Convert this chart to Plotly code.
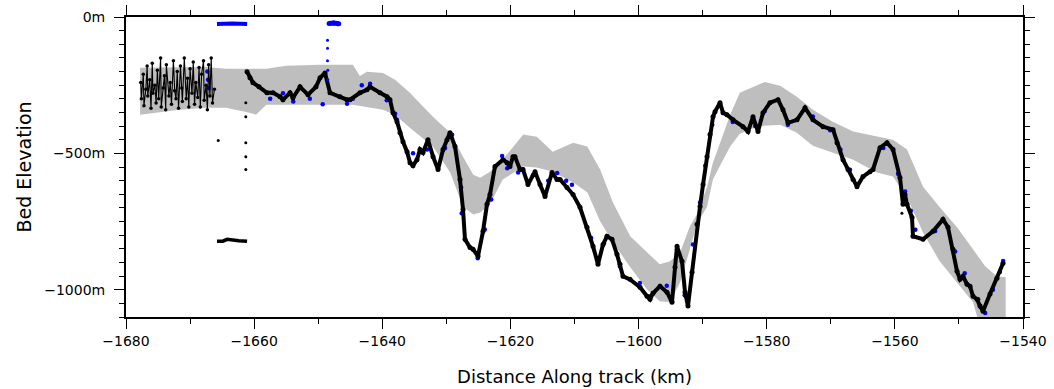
import plotly.graph_objects as go

# ---------------- data (km along track, metres) ----------------
band_km = [-1677.8, -1671.6, -1667.5, -1664.4, -1661.4, -1659.7, -1658.1, -1655.0, -1649.7,
           -1644.6, -1643.5, -1642.4, -1639.9, -1638.0, -1635.7, -1632.1, -1629.4, -1627.4,
           -1625.8, -1624.7, -1623.2, -1621.2, -1618.0, -1615.9, -1613.4, -1610.2, -1608.0,
           -1606.0, -1604.0, -1601.3, -1598.7, -1596.7, -1595.1, -1593.5, -1592.0, -1590.9,
           -1589.3, -1588.4, -1586.8, -1585.7, -1584.2, -1581.5, -1580.3, -1577.9, -1575.3,
           -1572.8, -1569.7, -1566.5, -1562.8, -1560.3, -1558.1, -1555.6, -1553.0, -1550.3,
           -1547.8, -1545.9, -1544.1, -1542.7]
band_upper_m = [-186, -183, -183, -190, -190, -190, -190, -179, -175,
                -175, -216, -201, -205, -230, -278, -366, -424, -512,
                -578, -589, -567, -523, -431, -439, -494, -461, -475,
                -559, -680, -804, -863, -907, -896, -863, -768, -724,
                -622, -534, -431, -358, -278, -249, -238, -252, -292,
                -340, -384, -420, -439, -450, -486, -622, -698, -771,
                -852, -914, -951, -954]
band_lower_m = [-358, -340, -333, -333, -347, -358, -322, -322, -322,
                -322, -325, -329, -340, -358, -406, -475, -570, -695,
                -724, -717, -687, -596, -548, -552, -567, -607, -643,
                -749, -826, -918, -998, -1042, -1046, -972, -852, -760,
                -695, -596, -523, -475, -428, -402, -399, -395, -424,
                -472, -497, -523, -570, -585, -662, -790, -896, -972,
                -1046, -1200, -1200, -1200]

noise_km = [-1677.7, -1677.6, -1677.3, -1677.2, -1676.9, -1676.7, -1676.6, -1676.3, -1676.1,
            -1675.9, -1675.8, -1675.5, -1675.3, -1675.1, -1674.9, -1674.6, -1674.5, -1674.2,
            -1674.0, -1673.8, -1673.7, -1673.3, -1673.1, -1672.9, -1672.6, -1672.4, -1672.2,
            -1672.0, -1671.8, -1671.5, -1671.3, -1671.2, -1670.9, -1670.6, -1670.4, -1670.2,
            -1670.0, -1669.7, -1669.5, -1669.3, -1669.1, -1668.8, -1668.6, -1668.4, -1668.2,
            -1667.9, -1667.8, -1667.5, -1667.3, -1667.1, -1666.9, -1666.7, -1666.5, -1666.2]
noise_m = [-240, -300, -210, -325, -265, -180, -290, -230, -335,
           -170, -280, -250, -315, -195, -300, -150, -330, -260,
           -215, -340, -175, -290, -240, -320, -160, -270, -300,
           -200, -335, -180, -260, -310, -150, -300, -225, -330,
           -190, -280, -165, -320, -240, -295, -185, -330, -210,
           -160, -305, -250, -340, -175, -290, -150, -315, -265]

track_km = [-1661.11, -1660.65, -1660.18, -1659.24, -1657.99, -1657.06, -1655.96, -1655.50, -1654.40,
            -1653.94, -1652.84, -1651.59, -1650.35, -1649.72, -1648.94, -1648.16, -1646.60, -1645.51,
            -1645.04, -1643.48, -1642.39, -1641.92, -1640.36, -1639.26, -1638.80, -1638.33, -1637.70,
            -1637.24, -1636.77, -1636.14, -1635.67, -1635.21, -1634.58, -1634.11, -1633.65, -1632.87,
            -1632.08, -1631.30, -1630.52, -1629.90, -1629.43, -1628.65, -1627.87, -1627.40, -1627.09,
            -1626.31, -1625.84, -1625.06, -1624.28, -1623.66, -1623.19, -1622.41, -1621.16, -1620.54,
            -1620.07, -1619.60, -1619.29, -1618.51, -1618.04, -1617.26, -1616.16, -1615.38, -1614.60,
            -1613.51, -1612.73, -1612.26, -1611.17, -1610.23, -1609.14, -1608.05, -1607.11, -1606.33,
            -1605.55, -1604.93, -1604.15, -1603.37, -1602.90, -1602.43, -1601.34, -1599.78, -1598.68,
            -1598.22, -1597.75, -1596.65, -1595.56, -1594.78, -1594.31, -1594.00, -1593.22, -1592.75,
            -1592.29, -1591.66, -1590.88, -1590.41, -1589.94, -1589.32, -1588.85, -1588.38, -1588.07,
            -1587.29, -1586.82, -1586.20, -1585.26, -1583.70, -1582.92, -1582.14, -1581.36, -1580.58,
            -1579.49, -1578.24, -1577.46, -1576.68, -1575.27, -1574.02, -1572.78, -1571.21, -1569.65,
            -1569.03, -1568.09, -1567.31, -1566.53, -1565.91, -1564.97, -1563.88, -1563.41, -1562.32,
            -1561.23, -1560.29, -1559.20, -1558.73, -1558.42, -1558.10, -1557.32, -1557.17, -1555.61,
            -1554.05, -1552.49, -1551.71, -1550.93, -1550.30, -1549.83, -1549.36, -1548.74, -1548.27,
            -1547.80, -1547.18, -1546.71, -1546.24, -1545.15, -1544.06, -1543.12]
track_m = [-201, -223, -241, -256, -278, -278, -292, -303, -278,
           -296, -256, -285, -256, -223, -205, -278, -292, -303,
           -303, -278, -267, -256, -278, -292, -303, -351, -384,
           -424, -457, -494, -534, -545, -523, -486, -497, -450,
           -512, -559, -486, -450, -424, -475, -596, -706, -815,
           -845, -852, -877, -786, -687, -651, -548, -523, -534,
           -548, -512, -512, -559, -559, -614, -567, -614, -658,
           -570, -596, -596, -625, -651, -698, -771, -841, -907,
           -834, -804, -815, -870, -907, -951, -962, -991, -1024,
           -1035, -1013, -987, -1009, -1046, -918, -841, -896, -1009,
           -1060, -936, -760, -695, -614, -512, -431, -366, -347,
           -314, -351, -358, -377, -402, -420, -366, -420, -351,
           -314, -303, -340, -388, -377, -333, -377, -402, -413,
           -461, -523, -559, -596, -622, -585, -567, -559, -479,
           -461, -486, -589, -687, -651, -687, -735, -804, -815,
           -786, -742, -771, -852, -932, -962, -951, -980, -987,
           -1024, -1035, -1060, -1079, -1016, -958, -903]

blue_km = [-1667.3, -1667.2, -1667.1, -1657.5, -1655.5, -1653.9, -1651.3, -1649.3, -1645.5,
           -1644.6, -1643.2, -1641.9, -1639.3, -1638.0, -1637.7, -1635.2, -1633.0, -1630.2,
           -1629.1, -1627.7, -1627.6, -1625.1, -1624.0, -1623.0, -1621.3, -1620.5, -1618.8,
           -1616.5, -1614.1, -1612.7, -1611.3, -1610.4, -1607.4, -1605.4, -1602.9, -1599.8,
           -1598.2, -1595.6, -1594.0, -1592.8, -1591.5, -1590.4, -1589.6, -1588.5, -1585.3,
           -1581.8, -1580.3, -1576.7, -1572.8, -1570.1, -1568.5, -1567.0, -1561.8, -1559.5,
           -1558.4, -1557.5, -1556.8, -1553.7, -1550.6, -1549.1, -1547.0, -1545.9, -1544.7,
           -1543.6, -1543.1]
blue_m = [-200, -230, -260, -300, -280, -310, -300, -320, -318,
          -300, -250, -245, -305, -355, -377, -500, -486, -480,
          -432, -625, -720, -885, -779, -669, -510, -555, -570,
          -580, -600, -572, -600, -615, -810, -830, -915, -975,
          -1024, -985, -852, -1020, -834, -680, -545, -395, -385,
          -400, -345, -395, -365, -415, -486, -560, -480, -575,
          -640, -710, -780, -785, -860, -940, -1035, -1085, -1000,
          -935, -895]

surf1_km = [-1665.8, -1664.6, -1663.4, -1662.2, -1661.1]
surf1_m = [-26, -24, -24, -25, -26]
surf2_km = [-1648.3, -1647.6, -1646.8]
surf2_m = [-24, -22, -25]
drop_km = [-1648.55, -1648.55, -1648.55, -1648.5, -1648.5]
drop_m = [-85, -115, -160, -195, -230]

bar_km = [-1665.8, -1664.9, -1664.2, -1663.4, -1662.4, -1661.1]
bar_m = [-822, -822, -815, -818, -820, -822]
stray_km = [-1665.6, -1661.3, -1661.3, -1661.3, -1661.3, -1661.3, -1558.9]
stray_m = [-453, -314, -366, -461, -512, -559, -720]

x_ticks = [-1680, -1660, -1640, -1620, -1600, -1580, -1560, -1540]
x_labels = ["\u22121680", "\u22121660", "\u22121640", "\u22121620", "\u22121600",
            "\u22121580", "\u22121560", "\u22121540"]
y_ticks = [0, -500, -1000]
y_labels = ["0m", "\u2212500m", "\u22121000m"]

# ---------------- figure ----------------
GRAY = "rgb(190,190,190)"
BLUE = "rgb(0,0,255)"
FONT = "DejaVu Sans"

fig = go.Figure()
fig.add_trace(go.Scatter(
    x=band_km + band_km[::-1], y=band_upper_m + band_lower_m[::-1],
    mode="lines", fill="toself", fillcolor=GRAY, line=dict(width=0, color=GRAY),
    hoverinfo="skip"))
fig.add_trace(go.Scatter(x=blue_km, y=blue_m, mode="markers",
                         marker=dict(color=BLUE, size=4.5, line=dict(width=0))))
fig.add_trace(go.Scatter(x=noise_km, y=noise_m, mode="lines+markers",
                         line=dict(color="black", width=1.1),
                         marker=dict(color="black", size=3.5)))
fig.add_trace(go.Scatter(x=track_km, y=track_m, mode="lines+markers",
                         line=dict(color="black", width=4),
                         marker=dict(color="black", size=5)))
fig.add_trace(go.Scatter(x=surf1_km, y=surf1_m, mode="lines",
                         line=dict(color=BLUE, width=4)))
fig.add_trace(go.Scatter(x=surf2_km, y=surf2_m, mode="lines+markers",
                         line=dict(color=BLUE, width=5), marker=dict(color=BLUE, size=5)))
fig.add_trace(go.Scatter(x=drop_km, y=drop_m, mode="markers",
                         marker=dict(color=BLUE, size=3)))
fig.add_trace(go.Scatter(x=bar_km, y=bar_m, mode="lines",
                         line=dict(color="black", width=3.5)))
fig.add_trace(go.Scatter(x=stray_km, y=stray_m, mode="markers",
                         marker=dict(color="black", size=3)))

axis_common = dict(
    showline=True, linewidth=2, linecolor="black", mirror="allticks",
    ticks="outside", ticklen=10, tickwidth=1.3, tickcolor="black",
    showgrid=False, zeroline=False,
    tickfont=dict(family=FONT, size=14, color="black"),
)
fig.update_xaxes(
    range=[-1680, -1540], tickmode="array", tickvals=x_ticks, ticktext=x_labels,
    minor=dict(tickmode="linear", tick0=-1680, dtick=10, ticks="outside",
               ticklen=5, tickwidth=1.3, tickcolor="black", showgrid=False),
    title=dict(text="Distance Along track (km)", font=dict(family=FONT, size=18, color="black"),
               standoff=23),
    **axis_common)
fig.update_yaxes(
    range=[-1100, 0], tickmode="array", tickvals=y_ticks, ticktext=y_labels,
    minor=dict(tickmode="linear", tick0=0, dtick=50, ticks="outside",
               ticklen=5, tickwidth=1.3, tickcolor="black", showgrid=False),
    ticklabelstandoff=6,
    title=dict(text="Bed Elevation", font=dict(family=FONT, size=19, color="black"),
               standoff=8),
    **axis_common)

fig.update_layout(
    width=1054, height=389,
    margin=dict(l=126, r=31, t=17, b=72, autoexpand=False),
    paper_bgcolor="white", plot_bgcolor="white",
    showlegend=False,
)

fig.write_html("out.html")
